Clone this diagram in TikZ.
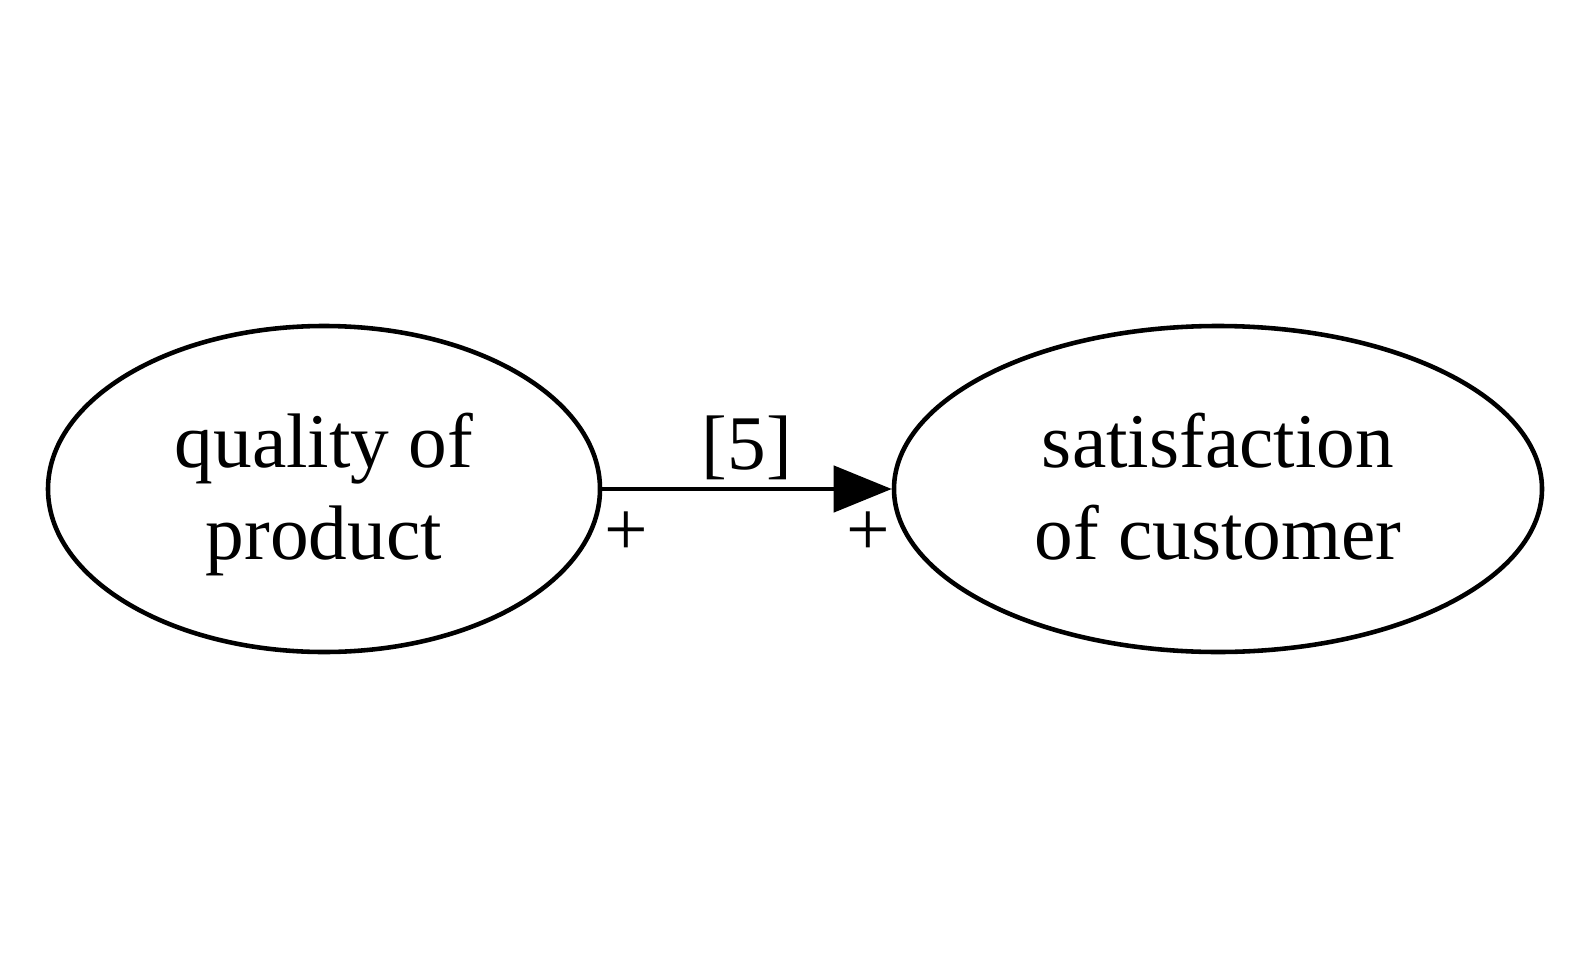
\documentclass[tikz,border=0pt]{standalone}
\usepackage{fontspec}
\setmainfont{Liberation Serif}
\usetikzlibrary{arrows.meta,shapes.geometric}
\newcommand{\lowtwo}[2]{\raisebox{-0.06cm}[\height][\depth]{\begin{tabular}{@{}c@{}}#1\\#2\end{tabular}}}
\begin{document}
\begin{tikzpicture}[
  every node/.style={font=\fontsize{22}{26.2}\selectfont},
  stateell/.style={draw, ellipse, line width=1.3pt, inner sep=0pt},
  conn/.style={line width=1.3pt, -{Triangle[length=0.58cm,width=0.46cm]}},
]
\useasboundingbox (0,0) rectangle (15.94,-9.76);
\node[stateell, minimum width=5.52cm, minimum height=3.26cm] (q) at (3.24,-4.89) {\lowtwo{quality of}{product}};
\node[stateell, minimum width=6.48cm, minimum height=3.26cm] (s) at (12.18,-4.89) {\lowtwo{satisfaction}{of customer}};
\draw[conn] (q) -- (s)
  node[pos=0.5, yshift=0.41cm] (w) {[5]}
  node[pos=0.082, yshift=-0.45cm, inner sep=0pt] (p1) {+}
  node[pos=0.918, yshift=-0.45cm, inner sep=0pt] (p2) {+};
\end{tikzpicture}
\end{document}
